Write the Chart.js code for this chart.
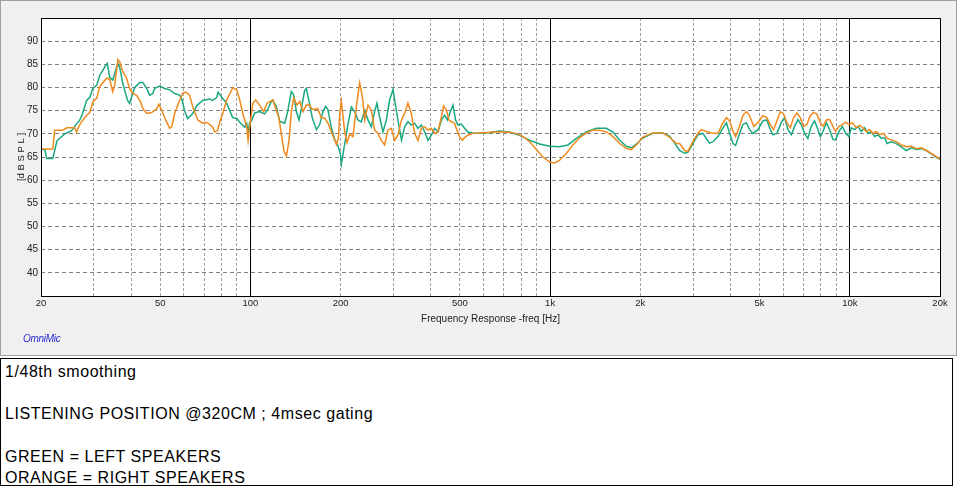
<!DOCTYPE html>
<html>
<head>
<meta charset="utf-8">
<script src="https://cdn.jsdelivr.net/npm/chart.js@4.4.1/dist/chart.umd.min.js"></script>
<style>
html,body{margin:0;padding:0;background:#fff;width:960px;height:487px;overflow:hidden;}
#panel{position:absolute;left:0;top:0;width:955px;height:354px;background:#f0f0f0;border:1px solid #a0a0a0;}
#wrap{position:absolute;left:0;top:0;width:957px;height:356px;}
#omni{position:absolute;left:23px;top:333px;font-family:"Liberation Sans",Arial,sans-serif;font-style:italic;font-size:10px;color:#2a2ad0;letter-spacing:-0.3px;}
#box{position:absolute;left:0;top:358px;width:947px;height:124.5px;border:1px solid #000;background:#fff;padding:1.5px 0 0 4px;font-family:"Liberation Sans",Arial,sans-serif;font-size:16px;line-height:21.3px;letter-spacing:0.55px;color:#000;white-space:pre;}
</style>
</head>
<body>
<div id="panel"></div>
<div id="wrap"><canvas id="c"></canvas></div>
<div id="omni">OmniMic</div>
<div id="box">1/48th smoothing

LISTENING POSITION @320CM ; 4msec gating

GREEN = LEFT SPEAKERS
ORANGE = RIGHT SPEAKERS</div>
<script>
// ---- data ----
const leftFreq = [20.0,20.6,20.9,21.9,22.6,24.0,25.3,26.3,26.9,27.4,28.4,29.1,29.8,30.7,31.4,32.9,33.3,33.9,34.7,36.1,36.6,37.5,38.9,39.5,41.1,42.7,43.7,45.1,46.1,47.2,47.9,49.8,51.7,53.8,55.9,58.1,59.0,60.3,61.7,64.2,66.2,69.3,73.1,74.8,77.2,78.0,80.2,83.3,87.2,90.0,92.1,95.7,97.2,98.2,99.4,
100.7,103.3,107.3,111.5,114.1,117.4,118.6,122.0,125.2,130.1,133.1,136.9,139.4,142.3,145.2,147.9,151.7,153.7,156.8,160.9,166.0,170.2,174.6,178.2,181.4,186.2,191.0,195.9,199.6,201.1,203.6,207.8,211.5,
217.1,222.7,228.4,234.5,240.6,246.7,253.1,259.6,264.2,269.7,276.8,284.1,291.4,299.2,302.8,310.5,319.2,326.9,335.4,344.2,353.1,362.2,371.8,381.5,391.2,401.5,411.8,422.4,433.7,445.0,454.2,464.8,474.2,483.7,492.4,505.4,518.4,531.7,552.5,581.8,628.3,678.3,732.4,789.3,854.6,922.6,996,1076,1147,1223,1321,1426,1540,1621,1707,1796,1867,1939,
2040,2201,2380,2502,2636,
2705,2811,2883,2995,3113,3235,3320,3405,3498,3631,3774,3874,3972,4075,4160,4290,4400,4517,4633,4750,4935,5128,5286,5400,5538,5712,5908,6060,6217,6381,6545,6713,6887,7065,7246,7436,7628,7760,7975,8139,8357,8566,8786,8965,9197,9443,9686,9931,10116,10375,10644,10924,11205,11500,11796,12102,12413,12741,13070,13303,13755,14295,14850,15434,16049,16676,17335,18000,18710,19445,20000];
const leftDb = [66.6,66.6,64.7,64.7,68.5,70.0,70.7,72.2,72.9,74.0,77.2,77.9,79.8,80.5,82.6,84.8,85.2,82.2,81.6,85.2,84.4,80.9,77.2,76.6,80.0,81.1,81.1,79.8,78.3,78.7,79.8,80.3,79.8,79.5,78.7,78.3,77.5,75.0,73.3,74.4,76.1,77.2,77.5,77.2,77.9,79.0,77.9,76.6,73.5,73.3,72.5,71.4,72.2,70.3,72.5,
72.7,74.5,74.8,74.3,75.2,77.0,77.3,75.9,72.7,72.3,74.8,79.1,78.4,74.8,73.0,75.5,79.4,79.8,77.0,73.4,70.9,72.0,74.8,75.9,75.2,71.3,68.8,67.4,65.6,63.5,65.6,69.1,72.0,
75.8,74.8,73.0,72.6,75.1,73.0,71.5,74.8,76.6,73.7,70.4,73.0,77.3,79.6,77.3,73.0,68.6,71.5,72.6,71.9,72.3,71.2,71.9,70.4,68.6,69.7,71.2,70.4,73.0,74.0,73.0,74.8,76.2,73.0,71.9,72.1,71.2,70.4,70.2,70.1,70.3,70.6,70.4,69.7,68.6,67.8,67.3,67.2,67.6,69.0,70.4,71.2,71.2,70.4,68.6,67.3,67.0,67.8,
69.1,70.1,70.1,69.5,67.5,
66.4,65.8,66.0,67.9,69.8,70.1,69.0,68.0,68.3,69.4,71.3,72.4,70.1,67.9,67.5,70.1,72.0,72.4,70.9,70.1,70.9,72.8,73.0,71.3,69.8,70.1,72.4,73.5,70.9,69.8,71.6,73.1,72.0,70.1,69.0,71.6,72.8,71.6,69.4,70.5,72.4,70.9,68.8,68.7,70.5,71.6,70.1,69.4,71.3,70.9,71.6,70.5,71.3,70.1,70.5,69.4,69.8,69.0,69.2,67.9,68.3,67.9,67.2,66.4,67.0,66.6,66.8,66.4,65.7,64.9,64.5];

const rightFreq = [20.0,21.9,22.2,23.6,24.4,25.9,26.3,26.9,27.6,28.4,29.1,29.8,30.7,31.4,33.1,33.9,34.7,35.2,36.1,36.6,37.5,38.6,39.5,40.5,41.7,43.0,43.7,45.1,46.8,48.7,49.4,50.6,52.1,53.8,54.6,55.9,58.1,59.4,60.8,62.7,64.2,66.7,69.3,71.4,73.1,74.8,76.0,77.7,79.0,80.8,83.3,86.6,87.2,90.0,92.1,94.2,97.2,98.2,99.0,
100.0,101.9,104.1,107.3,110.7,113.5,116.5,118.9,121.4,124.5,126.8,129.4,131.8,134.4,136.9,139.4,143.0,146.0,149.8,153.7,157.7,159.7,163.9,167.5,172.5,176.8,181.4,187.7,193.5,196.5,198.5,201.1,206.2,209.9,214.3,
219.9,225.6,231.4,236.4,240.6,246.7,253.1,259.6,266.4,273.2,280.4,287.6,295.2,302.8,310.5,319.2,326.9,335.4,344.2,353.1,362.2,371.8,381.5,391.2,401.5,411.8,422.4,433.7,441.4,450.7,459.8,468.6,480.0,488.6,498.8,509.3,518.4,531.7,552.5,581.8,612.6,661.6,714.2,770.9,811.8,854.6,899.4,946.4,996,1035,1076,1133,1192,1255,1321,1389,1462,1540,1621,1707,1796,1867,1939,
2040,2201,2380,2502,2636,
2705,2811,2883,2995,3113,3197,3320,3498,3631,3774,3874,3972,4075,4160,4269,4400,4517,4633,4778,4935,5128,5286,5428,5568,5712,5863,6014,6169,6332,6495,6662,6834,7011,7191,7380,7570,7760,7975,8139,8357,8566,8786,8965,9197,9443,9686,9931,10194,10511,10785,11059,11350,11645,11945,12260,12583,12970,13303,13755,14295,14850,15434,16049,16676,17335,18000,18710,19445,20000];
const rightDb = [66.7,66.7,70.8,70.8,71.3,71.3,70.4,71.9,73.0,74.0,74.6,76.9,77.7,80.2,82.0,81.8,79.1,80.4,86.0,85.6,83.4,82.0,79.8,78.7,78.3,76.9,75.5,74.4,74.6,75.4,76.4,75.1,73.0,71.2,71.5,74.5,77.3,78.8,79.0,78.3,75.8,73.0,72.3,72.5,72.0,71.5,70.4,70.7,72.6,74.4,77.3,79.5,80.0,79.5,77.3,74.5,71.5,68.6,70.6,
72.7,76.6,77.3,76.2,74.8,76.6,77.0,77.3,75.5,73.4,69.9,66.3,65.2,68.4,74.8,77.7,76.2,77.0,74.8,76.2,76.2,75.5,75.2,75.5,73.4,73.4,72.3,69.9,67.7,69.1,74.1,77.0,70.6,68.1,69.9,
69.4,75.8,81.0,78.0,73.0,76.2,75.1,70.8,70.1,68.6,67.6,70.8,71.2,68.6,69.7,73.0,74.4,76.6,74.4,70.1,68.6,71.2,71.5,70.8,71.2,70.1,70.4,73.7,76.0,75.1,73.0,72.6,72.3,70.8,69.4,68.6,69.2,69.7,70.1,70.2,70.3,70.4,70.4,70.1,69.4,68.3,66.6,65.0,63.9,63.7,64.3,65.8,67.6,69.2,70.2,70.8,70.8,70.4,69.4,67.9,66.8,66.6,67.6,
69.3,70.2,70.2,69.3,67.9,
67.9,66.4,66.2,68.3,70.1,70.9,70.5,70.1,70.1,72.4,73.5,72.8,70.5,69.4,71.3,74.0,74.8,73.9,71.6,72.4,73.9,73.5,72.0,70.9,72.8,74.8,74.3,72.4,71.3,73.5,74.5,73.5,71.6,72.0,73.9,74.6,74.3,72.4,71.6,73.0,73.1,71.6,70.5,71.6,72.0,72.5,72.0,72.4,71.3,71.8,71.3,70.5,70.9,70.1,70.5,69.8,70.1,69.0,68.7,68.3,67.6,67.2,67.3,66.8,67.0,66.4,65.8,65.1,64.5];

const xGridValues = [20,30,40,50,60,70,80,90,100,200,300,400,500,600,700,800,900,1000,2000,3000,4000,5000,6000,7000,8000,9000,10000,20000];
const xLabelValues = [20,50,100,200,500,1000,2000,5000,10000,20000];
const xLabelTexts = ['20','50','100','200','500','1k','2k','5k','10k','20k'];
const majorX = [100,1000,10000];
const yLabelValues = [40,45,50,55,60,65,70,75,80,85,90];

const FONT = '"Liberation Sans",Arial,sans-serif';

const plotBg = {
  id: 'plotBg',
  beforeDraw(chart) {
    const {ctx, chartArea: a} = chart;
    ctx.save();
    ctx.fillStyle = '#ffffff';
    ctx.fillRect(a.left, a.top, a.right - a.left, a.bottom - a.top);
    ctx.restore();
  },
  afterDraw(chart) {
    const {ctx, chartArea: a} = chart;
    ctx.save();
    ctx.strokeStyle = '#000';
    ctx.lineWidth = 1;
    ctx.strokeRect(Math.round(a.left) + 0.5, Math.round(a.top) + 0.5, Math.round(a.right - a.left), Math.round(a.bottom - a.top));
    ctx.restore();
  }
};

new Chart(document.getElementById('c'), {
  type: 'line',
  data: {
    datasets: [
      { label: 'RIGHT', data: rightFreq.map((f, i) => ({x: f, y: rightDb[i]})), borderColor: '#f08a1c', borderWidth: 1.5, pointRadius: 0, tension: 0, fill: false },
      { label: 'LEFT', data: leftFreq.map((f, i) => ({x: f, y: leftDb[i]})), borderColor: '#1aa882', borderWidth: 1.5, pointRadius: 0, tension: 0, fill: false }
    ]
  },
  options: {
    responsive: true,
    maintainAspectRatio: false,
    animation: false,
    devicePixelRatio: 1,
    layout: { padding: { left: 0, top: 18, right: 17, bottom: 30 } },
    plugins: { legend: { display: false }, tooltip: { enabled: false } },
    scales: {
      x: {
        type: 'logarithmic',
        min: 20, max: 20000,
        afterBuildTicks(scale) { scale.ticks = xGridValues.map(v => ({ value: v })); },
        afterFit(scale) { scale.height = 30; },
        ticks: {
          autoSkip: false, maxRotation: 0, minRotation: 0, padding: 2,
          color: '#222', font: { family: FONT, size: 9.5 },
          callback(v) { const k = xLabelValues.indexOf(v); return k >= 0 ? xLabelTexts[k] : ''; }
        },
        grid: {
          drawTicks: false,
          lineWidth: 1,
          color(ctx) {
            const v = ctx.tick ? ctx.tick.value : null;
            if (v === 20 || v === 20000) return 'rgba(0,0,0,0)';
            return majorX.includes(v) ? '#000' : '#a0a0a0';
          }
        },
        border: {
          display: false,
          dash(ctx) { const v = ctx.tick ? ctx.tick.value : null; return majorX.includes(v) ? [] : [3, 2]; }
        },
        title: { display: true, text: 'Frequency Response -freq [Hz]', color: '#222', font: { family: FONT, size: 10 }, padding: { top: 0, bottom: 0.5 } }
      },
      y: {
        type: 'linear',
        min: 35, max: 95,
        afterBuildTicks(scale) { scale.ticks = [35].concat(yLabelValues, [95]).map(v => ({ value: v })); },
        afterFit(scale) { scale.width = 41; },
        ticks: {
          autoSkip: false, padding: 3,
          color: '#222', font: { family: FONT, size: 10 },
          callback(v) { return yLabelValues.includes(v) ? String(v) : ''; }
        },
        grid: {
          drawTicks: false,
          lineWidth: 1,
          color(ctx) { const v = ctx.tick ? ctx.tick.value : null; return yLabelValues.includes(v) ? '#808080' : 'rgba(0,0,0,0)'; }
        },
        border: { display: false, dash: [4, 3] },
        title: { display: true, text: '[d B S P L ]', color: '#222', font: { family: FONT, size: 9.5 }, padding: { top: 16, bottom: 0 } }
      }
    }
  },
  plugins: [plotBg]
});
</script>
</body>
</html>
